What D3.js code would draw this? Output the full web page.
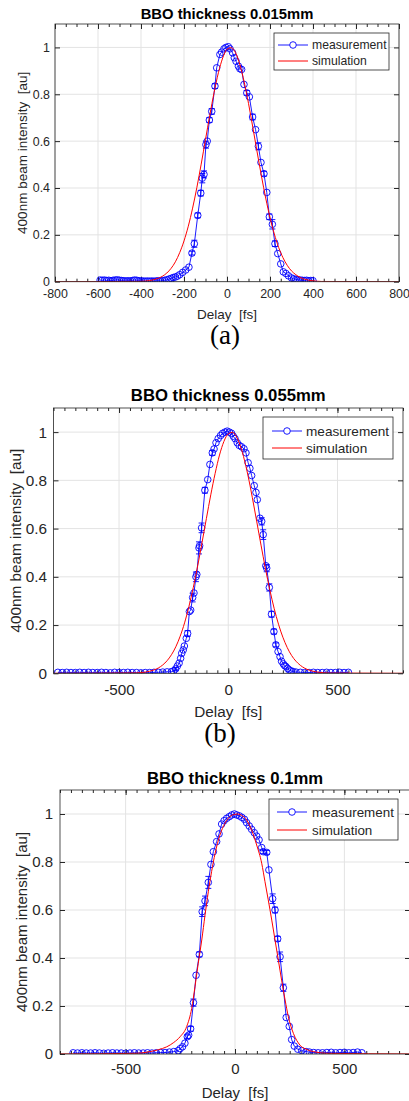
<!DOCTYPE html>
<html>
<head>
<meta charset="utf-8">
<script src="https://cdnjs.cloudflare.com/ajax/libs/d3/7.8.5/d3.min.js"></script>
<style>
  body { margin: 0; background: #fff; }
  svg { display: block; }
</style>
</head>
<body>
<div id="chart"></div>
<script>
// ---- data ----
// panel (a) BBO 0.015mm
delaysA = [-590,-580,-570,-560,-550,-540,-530,-520,-510,-500,-490,-480,-470,-460,-450,-440,-430,-420,-410,-400,
  -390,-380,-370,-360,-350,-340,-330,-320,-310,-300,-290,-280,-270,-260,-250,-240,-230,-220,
  -206,-192,-177,-163,-152,-136,-122,-115,-107,-98,-92,-82,-71,-56,-48,-33,-25,-14,-5,6,14,26,34,42,53,60,68,79,
  92,104,119,133,146,158,172,185,197,211,223,236,250,262,274,286,300,310,320,330,340,350,360,370,380,390,400];
valuesA = [.007,.006,.007,.005,.006,.004,.006,.007,.008,.006,.005,.004,.003,.004,.003,.005,.007,.006,.004,.003,
  .003,.002,.003,.002,.003,.002,.003,.004,.003,.005,.006,.008,.011,.014,.018,.02,.024,.03,
  .04,.05,.062,.122,.162,.283,.378,.442,.458,.585,.6,.69,.727,.835,.913,.97,.98,.994,1.0,1.003,.994,.977,.956,.941,.92,.909,.906,.842,
  .806,.789,.703,.649,.578,.509,.461,.381,.277,.245,.162,.12,.076,.042,.035,.025,.016,.012,.01,.008,.007,.006,.005,.006,.004,.005,.004];
errBarsA = [[-163,.008],[-152,.015],[-136,.01],[-122,.012],[-115,.02],[-107,.015],[-98,.015],[-82,.01],[-71,.012],[-56,.01],
  [92,.01],[119,.012],[146,.015],[172,.01],[197,.012],[211,.02],[223,.012]];
simTA = [-800,-400,-380,-360,-340,-320,-300,-280,-260,-240,-220,-200,-180,-160,-140,-120,-100,-80,-60,-40,-20,0,
  20,40,60,80,100,120,140,160,180,200,220,240,260,280,300,320,340,360,380,400,420,440,800];
simVA = [0,.0015,.0027,.0049,.0085,.0144,.0235,.037,.057,.085,.124,.174,.237,.314,.403,.502,.607,.711,.808,.892,.955,.992,
  .999,.977,.926,.852,.761,.659,.554,.452,.357,.274,.204,.147,.103,.07,.046,.03,.0185,.011,.0065,.0037,.002,.001,0];

// panel (b) BBO 0.055mm
delaysB = [-780,-760,-740,-720,-700,-680,-660,-640,-620,-600,-580,-560,-540,-520,-500,-480,-460,-440,-420,-400,
  -380,-360,-340,-320,-300,-280,-260,
  -250,-241,-233,-225,-218,-213,-206,-201,-192,-186,-178,-172,-163,-157,-148,-144,-134,-131,-122,-107,-94,-84,-73,-65,
  -56,-46,-35,-26,-15,-5,5,15,23,31,41,50,61,72,81,91,99,107,119,127,133,145,153,160,172,176,188,198,209,218,228,
  237,244,252,258,264,272,279,288,297,310,
  330,350,370,390,410,430,450,470,490,510,530,550];
valuesB = [.004,.003,.004,.003,.003,.004,.003,.004,.003,.003,.004,.003,.002,.004,.003,.003,.004,.003,.003,.002,
  .003,.003,.004,.004,.005,.006,.007,
  .009,.018,.03,.042,.062,.083,.097,.113,.145,.165,.256,.262,.314,.333,.40,.41,.52,.529,.603,.759,.803,.866,.914,.93,
  .956,.973,.986,.995,1.0,1.004,1.0,.995,.983,.973,.956,.945,.939,.931,.914,.873,.85,.82,.778,.75,.72,.643,.63,.575,.446,.436,.356,.245,.173,.118,.09,
  .069,.05,.039,.032,.028,.02,.014,.01,.007,.005,
  .004,.003,.003,.004,.003,.003,.004,.003,.003,.004,.003,.004];
errBarsB = [[-241,.006],[-186,.012],[-163,.018],[-148,.02],[-134,.025],[-122,.02],[-107,.012],[-73,.01],
  [153,.015],[160,.02],[176,.015],[188,.015],[198,.012],[209,.01],[218,.008]];
simTB = [-800,-420,-400,-380,-360,-340,-320,-300,-280,-260,-240,-220,-200,-180,-160,-140,-120,-100,-80,-60,-40,-20,0,
  20,40,60,80,100,120,140,160,180,200,220,240,260,280,300,320,340,360,380,400,420,440,460,800];
simVB = [0,.0016,.0029,.005,.0084,.0139,.0221,.0345,.0522,.077,.11,.154,.209,.277,.356,.445,.542,.642,.74,.829,.905,.961,.993,
  .999,.977,.93,.862,.777,.681,.581,.483,.39,.307,.235,.175,.127,.089,.061,.041,.0265,.0168,.0103,.0062,.0036,.002,.001,0];

// panel (c) BBO 0.1mm
delaysC = [-740,-720,-700,-680,-660,-640,-620,-600,-580,-560,-540,-520,-500,-480,-460,-440,-420,-400,-380,-360,
  -340,-320,-300,-280,-260,
  -251,-240,-229,-218,-212,-203,-190,-178,-163,-150,-137,-122,-110,-99,-84,-73,-61,-50,-38,-26,-15,-3,8,20,31,43,53,
  65,76,88,99,110,122,129,145,155,172,183,195,206,221,234,248,259,271,287,305,325,
  340,360,380,400,420,440,460,480,500,520,540,560,580];
valuesC = [.005,.004,.005,.004,.004,.005,.004,.003,.004,.005,.004,.004,.003,.004,.005,.004,.004,.005,.004,.005,
  .006,.006,.008,.01,.014,
  .022,.03,.045,.072,.078,.105,.214,.328,.415,.593,.638,.715,.79,.843,.885,.917,.958,.972,.982,.989,.996,1.0,.996,.992,.986,.978,.964,
  .95,.936,.922,.908,.892,.86,.843,.84,.767,.647,.6,.48,.405,.276,.152,.115,.06,.033,.02,.014,.01,
  .008,.006,.005,.005,.006,.007,.005,.006,.007,.005,.006,.008,.005];
errBarsC = [[-218,.008],[-203,.01],[-190,.015],[-163,.01],[-150,.02],[-137,.02],[-122,.025],
  [129,.008],[145,.008],[172,.02],[183,.012],[195,.01],[206,.02],[221,.015]];
simTC = [-800,-450,-400,-350,-312,-280,-251,-221,-198,-183,-168,-152,-137,-122,-107,-91,-69,-46,-23,0,13,30,53,76,99,
  122,137,152,168,183,198,213,229,244,267,297,330,370,420,800];
simVC = [0,.003,.008,.018,.03,.048,.072,.114,.19,.28,.378,.475,.579,.676,.76,.836,.912,.961,.989,.999,1.0,.994,.975,.933,.871,
  .795,.718,.642,.558,.475,.392,.308,.225,.155,.086,.037,.018,.008,.003,0];

ticksXA = [-800,-600,-400,-200,0,200,400,600,800];
ticksXBC = [-500,0,500];
minorX = d3.range(-800, 801, 50);
ticksY = [0,0.2,0.4,0.6,0.8,1];
legendLabels = ["measurement", "simulation"];

// ---- layout per panel (pixels) ----
var panels = [
  { id: "a", title: "BBO thickness 0.015mm", caption: "(a)", t: delaysA, v: valuesA, err: errBarsA, st: simTA, sv: simVA, xt: ticksXA,
    left: 55, right: 399, top: 24, bottom: 281.7, font: 13.5, tickFont: 12.4, legFont: 12.2, titleFont: 14.8, titleY: 19.3, xPad: 8, yPad: 5, xlabY: 319, ylabX: 22,
    leg: { x: 274, y: 33, w: 115, h: 37, r1: 45, r2: 61, l0: 278, l1: 308, tx: 312 }, capY: 344, capX: 225 },
  { id: "b", title: "BBO thickness 0.055mm", caption: "(b)", t: delaysB, v: valuesB, err: errBarsB, st: simTB, sv: simVB, xt: ticksXBC,
    left: 53.5, right: 403, top: 408, bottom: 673.3, font: 15.3, tickFont: 15.3, legFont: 13.6, titleFont: 16.7, titleY: 401, xPad: 11, yPad: 6.5, xlabY: 716.5, ylabX: 16,
    leg: { x: 263, y: 417, w: 130, h: 42, r1: 431, r2: 448, l0: 272, l1: 302, tx: 306 }, capY: 742, capX: 220 },
  { id: "c", title: "BBO thickness 0.1mm", caption: null, t: delaysC, v: valuesC, err: errBarsC, st: simTC, sv: simVC, xt: ticksXBC,
    left: 60, right: 410, top: 790, bottom: 1054, font: 15, tickFont: 15, legFont: 13.4, titleFont: 16.7, titleY: 784, xPad: 9, yPad: 7, xlabY: 1097.5, ylabX: 22,
    leg: { x: 269, y: 799, w: 129, h: 41, r1: 812, r2: 830, l0: 277, l1: 307, tx: 312 } }
];

var FONT = '"Liberation Sans", Arial, Helvetica, sans-serif';
var INK = "#262626";
var BLUE = "#0000ff";
var RED = "#ff0000";

var svg = d3.select("#chart").append("svg")
    .attr("width", 409)
    .attr("height", 1101)
    .style("font-family", FONT);

function drawPanel(p) {
    var x = d3.scaleLinear().domain([-800, 800]).range([p.left, p.right]);
    var y = d3.scaleLinear().domain([0, 1.1]).range([p.bottom, p.top]);
    var g = svg.append("g").attr("color", INK);

    g.append("clipPath").attr("id", "clip-" + p.id).append("rect")
        .attr("x", p.left).attr("y", p.top)
        .attr("width", p.right - p.left).attr("height", p.bottom - p.top);

    // grid
    g.append("g").selectAll("line").data(p.xt).join("line")
        .attr("x1", function (d) { return x(d) }).attr("x2", function (d) { return x(d) })
        .attr("y1", p.top).attr("y2", p.bottom)
        .attr("stroke", "#e3e3e3").attr("stroke-width", 1);
    g.append("g").selectAll("line").data(ticksY).join("line")
        .attr("y1", function (d) { return y(d) }).attr("y2", function (d) { return y(d) })
        .attr("x1", p.left).attr("x2", p.right)
        .attr("stroke", "#e3e3e3").attr("stroke-width", 1);

    // axes, ticks pointing inwards
    function styleAxis(a) {
        a.select(".domain").remove();
        a.attr("font-family", FONT).attr("font-size", p.tickFont);
        a.selectAll("text").attr("fill", INK);
    }
    g.append("g").attr("transform", "translate(0," + p.bottom + ")")
        .call(d3.axisBottom(x).tickValues(minorX).tickSize(-3).tickSizeOuter(0).tickFormat(""))
        .call(styleAxis);
    g.append("g").attr("transform", "translate(0," + p.top + ")")
        .call(d3.axisTop(x).tickValues(minorX).tickSize(-3).tickSizeOuter(0).tickFormat(""))
        .call(styleAxis);
    g.append("g").attr("transform", "translate(0," + p.bottom + ")")
        .call(d3.axisBottom(x).tickValues(p.xt).tickSize(-5).tickSizeOuter(0).tickPadding(p.xPad)
            .tickFormat(function (d) { return String(d) }))
        .call(styleAxis);
    g.append("g").attr("transform", "translate(0," + p.top + ")")
        .call(d3.axisTop(x).tickValues(p.xt).tickSize(-5).tickSizeOuter(0).tickFormat(""))
        .call(styleAxis);
    g.append("g").attr("transform", "translate(" + p.left + ",0)")
        .call(d3.axisLeft(y).tickValues(ticksY).tickSize(-5).tickSizeOuter(0).tickPadding(p.yPad)
            .tickFormat(function (d) { return String(d) }))
        .call(styleAxis);
    g.append("g").attr("transform", "translate(" + p.right + ",0)")
        .call(d3.axisRight(y).tickValues(ticksY).tickSize(-5).tickSizeOuter(0).tickFormat(""))
        .call(styleAxis);

    var plot = g.append("g").attr("clip-path", "url(#clip-" + p.id + ")");

    // measurement: line, error bars, open circles
    var pts = p.t.map(function (t, i) { return { t: t, v: p.v[i] } });
    var line = d3.line().x(function (d) { return x(d.t) }).y(function (d) { return y(d.v) });
    plot.append("path").datum(pts).attr("d", line)
        .attr("fill", "none").attr("stroke", BLUE).attr("stroke-width", 0.9);

    var errs = p.err.map(function (e) {
        var i = p.t.indexOf(e[0]);
        return { t: e[0], v: p.v[i], e: e[1] };
    });
    var eb = plot.append("g").attr("stroke", BLUE).attr("stroke-width", 0.9);
    eb.selectAll(".v").data(errs).join("line")
        .attr("x1", function (d) { return x(d.t) }).attr("x2", function (d) { return x(d.t) })
        .attr("y1", function (d) { return y(d.v - d.e) }).attr("y2", function (d) { return y(d.v + d.e) });
    eb.selectAll(".c1").data(errs).join("line")
        .attr("x1", function (d) { return x(d.t) - 3 }).attr("x2", function (d) { return x(d.t) + 3 })
        .attr("y1", function (d) { return y(d.v - d.e) }).attr("y2", function (d) { return y(d.v - d.e) });
    eb.selectAll(".c2").data(errs).join("line")
        .attr("x1", function (d) { return x(d.t) - 3 }).attr("x2", function (d) { return x(d.t) + 3 })
        .attr("y1", function (d) { return y(d.v + d.e) }).attr("y2", function (d) { return y(d.v + d.e) });

    plot.append("g").selectAll("circle").data(pts).join("circle")
        .attr("cx", function (d) { return x(d.t) }).attr("cy", function (d) { return y(d.v) })
        .attr("r", 3.3).attr("fill", "none").attr("stroke", BLUE).attr("stroke-width", 0.9);

    // simulation
    var sim = p.st.map(function (t, i) { return { t: t, v: p.sv[i] } });
    plot.append("path").datum(sim).attr("d", line.curve(d3.curveMonotoneX))
        .attr("fill", "none").attr("stroke", RED).attr("stroke-width", 1);

    // box
    g.append("rect").attr("x", p.left).attr("y", p.top)
        .attr("width", p.right - p.left).attr("height", p.bottom - p.top)
        .attr("fill", "none").attr("stroke", INK).attr("stroke-width", 0.8);

    // legend
    var L = p.leg;
    var lg = g.append("g").attr("font-size", p.legFont).attr("fill", INK);
    lg.append("rect").attr("x", L.x).attr("y", L.y).attr("width", L.w).attr("height", L.h)
        .attr("fill", "#fff").attr("stroke", INK).attr("stroke-width", 0.8);
    lg.append("line").attr("x1", L.l0).attr("x2", L.l1).attr("y1", L.r1).attr("y2", L.r1)
        .attr("stroke", BLUE).attr("stroke-width", 0.9);
    lg.append("circle").attr("cx", (L.l0 + L.l1) / 2).attr("cy", L.r1).attr("r", 3.3)
        .attr("fill", "#fff").attr("stroke", BLUE).attr("stroke-width", 0.9);
    lg.append("line").attr("x1", L.l0).attr("x2", L.l1).attr("y1", L.r2).attr("y2", L.r2)
        .attr("stroke", RED).attr("stroke-width", 1);
    lg.selectAll("text").data(legendLabels).join("text")
        .attr("x", L.tx).attr("y", function (d, i) { return i ? L.r2 : L.r1 })
        .attr("dy", "0.35em").text(function (d) { return d });

    // titles and labels
    g.append("text").attr("x", (p.left + p.right) / 2).attr("y", p.titleY)
        .attr("text-anchor", "middle").attr("font-weight", "bold").attr("font-size", p.titleFont)
        .attr("fill", "#000").text(p.title);
    g.append("text").attr("x", (p.left + p.right) / 2).attr("y", p.xlabY)
        .attr("text-anchor", "middle").attr("font-size", p.font).attr("fill", INK)
        .style("white-space", "pre").text("Delay  [fs]");
    g.append("text")
        .attr("transform", "translate(" + p.ylabX + "," + (p.top + p.bottom) / 2 + ") rotate(-90)")
        .attr("text-anchor", "middle").attr("dy", "0.35em").attr("font-size", p.font).attr("fill", INK)
        .style("white-space", "pre").text("400nm beam intensity  [au]");
    if (p.caption) {
        g.append("text").attr("x", p.capX).attr("y", p.capY).attr("text-anchor", "middle")
            .attr("font-family", '"Liberation Serif", "Times New Roman", serif').attr("font-size", 27)
            .attr("fill", "#000").text(p.caption);
    }
}

panels.forEach(drawPanel);
</script>
</body>
</html>
